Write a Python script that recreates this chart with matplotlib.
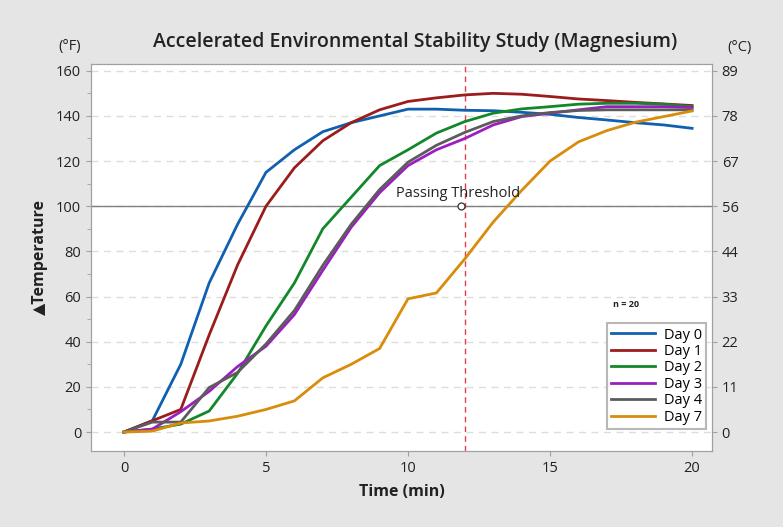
import numpy as np
import matplotlib.pyplot as plt
from matplotlib.ticker import MultipleLocator

plt.rcParams['font.family'] = ['Open Sans', 'DejaVu Sans']

# datos
minutos = list(range(21))
dias = ['Day 0', 'Day 1', 'Day 2', 'Day 3', 'Day 4', 'Day 7']
colores = ['#1060b0', '#9b1c1c', '#12882a', '#9b1fc0', '#5c5c5c', '#d98c0a']

day0 = [0, 5, 30, 66, 92, 115, 125, 133, 137, 140, 143, 143, 142.5, 142.3, 141.6, 140.7, 139.3, 138.2, 137, 136, 134.5]
day1 = [0, 5, 10, 43, 74, 100, 117, 129, 137, 142.7, 146.4, 148, 149.3, 150, 149.6, 148.6, 147.5, 146.8, 146, 145.3, 144.6]
day2 = [0, 1.3, 3.5, 9.3, 26, 47, 66, 90, 104, 118, 125, 132.4, 137.5, 141.2, 143.1, 144.1, 145.2, 145.6, 145.6, 145.2, 144.1]
day3 = [0, 1.3, 9, 18, 29, 38, 52, 71.6, 90.7, 106, 118, 125, 130, 136, 139.7, 141.2, 142.7, 144.1, 144.1, 144.1, 143.7]
day4 = [0, 4.4, 4.4, 19.7, 26.4, 39, 53.8, 73.8, 92, 107.4, 119.5, 127, 132.7, 137.5, 140, 141.5, 142.4, 142.7, 142.7, 142.7, 142.7]
day7 = [0, 0.4, 4, 4.9, 7, 10, 13.8, 24, 30, 37, 59, 61.6, 76.7, 93, 107, 120, 128.5, 133.5, 137.2, 139.7, 142.2]
series = [day0, day1, day2, day3, day4, day7]

f_ticks = [0, 20, 40, 60, 80, 100, 120, 140, 160]
c_labels = ['0', '11', '22', '33', '44', '56', '67', '78', '89']
umbral = 100
t_corte = 12

fig = plt.figure(figsize=(7.83, 5.27), dpi=100)
fig.patch.set_facecolor('#e5e5e5')
ax = fig.add_axes([0.1162, 0.1442, 0.7931, 0.7344])
ax.set_facecolor('white')

for nombre, col, y in zip(dias, colores, series):
    ax.plot(minutos, y, color=col, lw=2, label=nombre)

ax.axhline(umbral, color='#808080', lw=1, zorder=1)
ax.axvline(t_corte, color='#e0404a', lw=1, ls=(0, (4, 3)), zorder=1)
ax.plot(11.85, umbral, 'o', mfc='white', mec='#333333', ms=5, mew=0.9, zorder=5)
ax.text(11.75, umbral + 2.5, 'Passing Threshold', ha='center', va='bottom', fontsize=10.5, color='#222222')

ax.set_xlim(-1.16, 20.7)
ax.set_ylim(-8.4, 163)
ax.set_xticks([0, 5, 10, 15, 20])
ax.set_yticks(f_ticks)
ax.yaxis.set_minor_locator(MultipleLocator(10))
ax.grid(axis='y', which='major', color='#dddddd', ls=(0, (5, 4)), lw=1)
ax.set_axisbelow(True)
for s in ax.spines.values():
    s.set_color('#a0a0a0')
ax.tick_params(colors='#a0a0a0', labelcolor='#222222', labelsize=10.5)
ax.tick_params(axis='y', which='minor', colors='#a0a0a0', length=3)

ax2 = ax.twinx()
ax2.set_ylim(ax.get_ylim())
ax2.set_yticks(f_ticks)
ax2.set_yticklabels(c_labels)
ax2.tick_params(colors='#a0a0a0', labelcolor='#222222', labelsize=10.5)
for s in ax2.spines.values():
    s.set_color('#a0a0a0')

ax.set_xlabel('Time (min)', fontsize=11.5, fontweight='bold', color='#222222', labelpad=6)
ax.set_ylabel('\u25b2Temperature', fontsize=11.5, fontweight='bold', color='#222222', labelpad=6)
fig.text(0.53, 0.92, 'Accelerated Environmental Stability Study (Magnesium)',
         ha='center', va='center', fontsize=14, fontweight='semibold', color='#222222')
fig.text(0.089, 0.912, '(°F)', ha='center', va='center', fontsize=10.5, color='#222222')
fig.text(0.945, 0.909, '(°C)', ha='center', va='center', fontsize=10.5, color='#222222')

leg = ax.legend(loc='lower right', bbox_to_anchor=(0.998, 0.045), fontsize=10.5,
                handlelength=3, handletextpad=0.6, labelspacing=0.1,
                borderpad=0.3, borderaxespad=0.3, fancybox=False, framealpha=1,
                edgecolor='#b8b8b8')
leg.get_frame().set_linewidth(1.5)
ax.text(17.2, 55.5, 'n = 20', fontsize=6.5, fontweight='bold', color='#222222')

fig.savefig('out.png', dpi=100, facecolor=fig.get_facecolor())
